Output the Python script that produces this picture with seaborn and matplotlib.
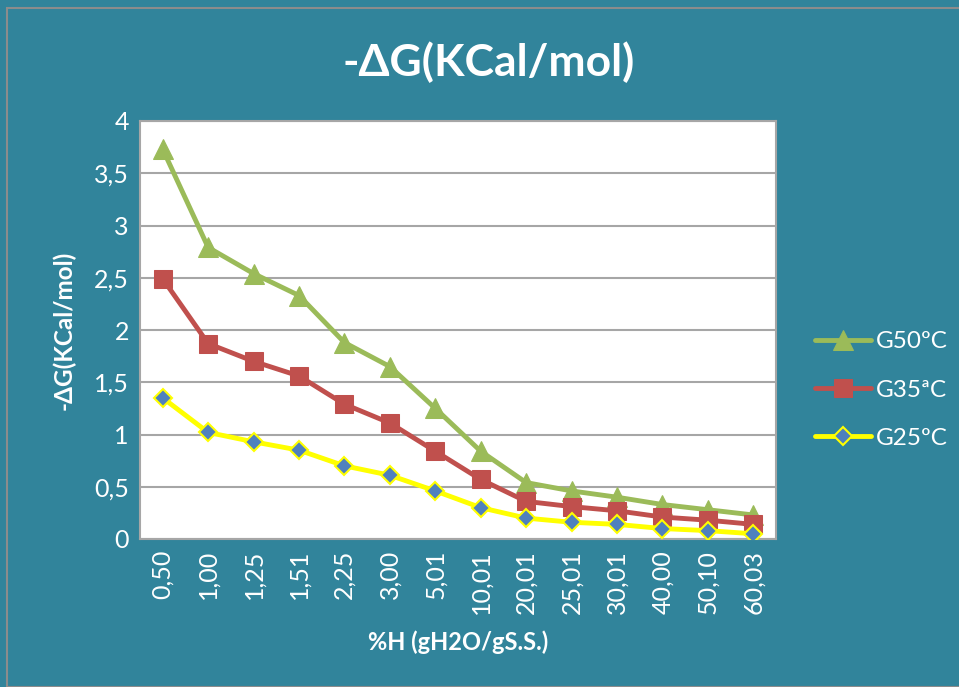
import matplotlib
matplotlib.use("Agg")
import matplotlib.pyplot as plt
import seaborn as sns
import pandas as pd
from matplotlib.patches import Rectangle

categories = ["0,50", "1,00", "1,25", "1,51", "2,25", "3,00", "5,01", "10,01",
              "20,01", "25,01", "30,01", "40,00", "50,10", "60,03"]
g50 = [3.73, 2.79, 2.54, 2.33, 1.88, 1.65, 1.25, 0.84, 0.54, 0.46, 0.40, 0.33, 0.28, 0.23]
g35 = [2.49, 1.87, 1.70, 1.56, 1.29, 1.11, 0.84, 0.57, 0.36, 0.31, 0.27, 0.21, 0.18, 0.14]
g25 = [1.35, 1.02, 0.93, 0.85, 0.70, 0.61, 0.46, 0.30, 0.20, 0.16, 0.14, 0.10, 0.08, 0.05]
yticks = [0, 0.5, 1, 1.5, 2, 2.5, 3, 3.5, 4]
ytick_labels = ["0", "0,5", "1", "1,5", "2", "2,5", "3", "3,5", "4"]

sns.set_theme(style="white")
plt.rcParams['font.family'] = ['Lato', 'DejaVu Sans']

bg = "#31849B"
fig = plt.figure(figsize=(9.59, 6.87), dpi=100)
fig.patch.set_facecolor(bg)
fig.patches.append(Rectangle((7/959, 0), 1.0, 1 - 8/687, transform=fig.transFigure,
                             fill=False, edgecolor="#8c8c8c", linewidth=1.5, zorder=0))

ax = fig.add_axes([140/959, 148/687, 636/959, 418/687])
ax.set_facecolor("white")

x = list(range(len(categories)))
df = pd.DataFrame({"x": x, "G50": g50, "G35": g35, "G25": g25})

sns.lineplot(data=df, x="x", y="G50", ax=ax, color="#9BBB59", linewidth=3.5,
             marker="^", markersize=14, markeredgecolor="#9BBB59", label="G50ºC", zorder=3)
sns.lineplot(data=df, x="x", y="G35", ax=ax, color="#C0504D", linewidth=3.5,
             marker="s", markersize=13, markeredgecolor="#C0504D", label="G35ªC", zorder=4)
sns.lineplot(data=df, x="x", y="G25", ax=ax, color="#FFFF00", linewidth=3.5,
             marker="D", markersize=9, markerfacecolor="#4F81BD",
             markeredgecolor="#FFFF00", markeredgewidth=1.5, label="G25ºC", zorder=5)

ax.set_xlim(-0.5, len(categories) - 0.5)
ax.set_ylim(0, 4)
ax.set_yticks(yticks)
ax.set_yticklabels(ytick_labels, color="white", fontsize=18)
ax.set_xticks(x)
ax.set_xticklabels(categories, rotation=90, color="white", fontsize=18)
ax.tick_params(axis="both", length=0, pad=8)
ax.yaxis.grid(True, color="#a6a6a6", linewidth=1.5)
ax.set_axisbelow(True)
for s in ax.spines.values():
    s.set_color("#a6a6a6")
    s.set_linewidth(1.5)

ax.set_xlabel("%H (gH2O/gS.S.)", color="white", fontsize=17, fontweight="bold", labelpad=12)
ax.set_ylabel("-ΔG(KCal/mol)", color="white", fontsize=17.5, fontweight="bold", labelpad=13)
fig.text(489/959, 1 - 62/687, "-ΔG(KCal/mol)", color="white", fontsize=32,
         fontweight="bold", ha="center", va="center")

leg = ax.legend(loc="center left", bbox_to_anchor=(815/959, 1 - 390/687),
                bbox_transform=fig.transFigure, frameon=False, borderpad=0,
                borderaxespad=0, fontsize=17.5, labelspacing=1.12, handlelength=2.3,
                handletextpad=0.2)
for t in leg.get_texts():
    t.set_color("white")

fig.savefig("out.png", dpi=100, facecolor=bg)
